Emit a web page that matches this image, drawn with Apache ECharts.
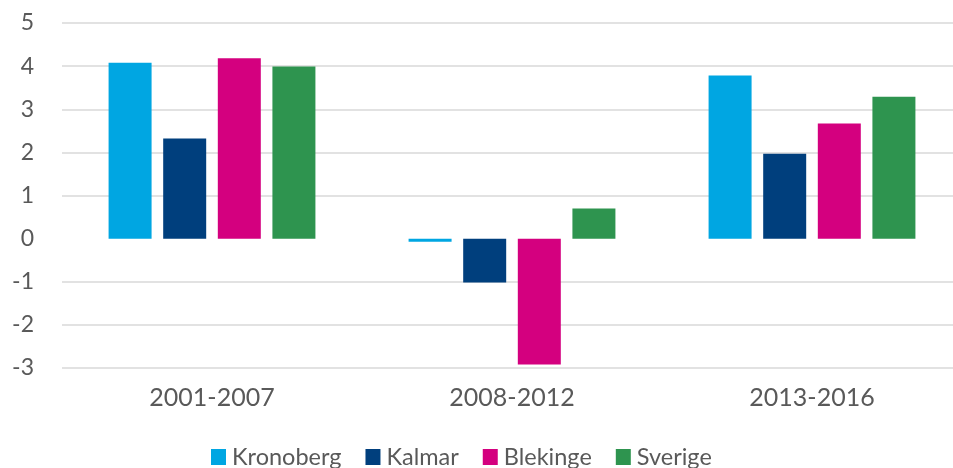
<!DOCTYPE html>
<html>
<head>
<meta charset="utf-8">
<script src="https://cdn.jsdelivr.net/npm/echarts@6/dist/echarts.min.js"></script>
<style>
  html, body { margin: 0; padding: 0; background: #fff; }
  #chart { width: 953px; height: 468px; }
</style>
</head>
<body>
<div id="chart"></div>
<script>
var periods = ["2001-2007", "2008-2012", "2013-2016"];
var kronoberg = [4.08, -0.07, 3.78];
var kalmar = [2.32, -1.02, 1.97];
var blekinge = [4.18, -2.92, 2.67];
var sverige = [3.99, 0.7, 3.29];
var yTicks = [-3, -2, -1, 0, 1, 2, 3, 4, 5];

var colors = ["#00a6e2", "#003f7d", "#d4007f", "#2e944f"];
var font = "Lato, 'Open Sans', sans-serif";

// gridline at zero is not drawn in the original
var gridColors = yTicks.map(function (t) {
  return t === 0 ? "rgba(0,0,0,0)" : "#d9d9d9";
});

function bar(name, data) {
  return {
    name: name,
    type: "bar",
    data: data,
    barWidth: 43,
    barGap: "27%",
    barCategoryGap: "30%",
  };
}

var myChart = echarts.init(document.getElementById("chart"));
var option = {
  animation: false,
  color: colors,
  textStyle: { fontFamily: font },
  // plot runs past the right edge, like the original
  grid: { left: 62, width: 900, top: 23, bottom: 100, outerBoundsMode: "none", containLabel: false },
  legend: {
    top: 440,
    left: 206,
    itemWidth: 15,
    itemHeight: 16,
    itemGap: 24,
    icon: "rect",
    textStyle: { fontSize: 23.5, color: "#595959", fontFamily: font, padding: [0, 0, 0, 1] },
    data: ["Kronoberg", "Kalmar", "Blekinge", "Sverige"],
  },
  xAxis: {
    type: "category",
    data: periods,
    axisLine: { show: false },
    axisTick: { show: false },
    axisLabel: { fontSize: 25, color: "#595959", margin: 17 },
  },
  yAxis: {
    type: "value",
    min: -3,
    max: 5,
    interval: 1,
    axisLine: { show: false },
    axisTick: { show: false },
    axisLabel: { fontSize: 23, color: "#595959", margin: 28 },
    splitLine: { lineStyle: { color: gridColors, width: 1.5 } },
  },
  series: [
    bar("Kronoberg", kronoberg),
    bar("Kalmar", kalmar),
    bar("Blekinge", blekinge),
    bar("Sverige", sverige),
  ],
};
option && myChart.setOption(option);
</script>
</body>
</html>
